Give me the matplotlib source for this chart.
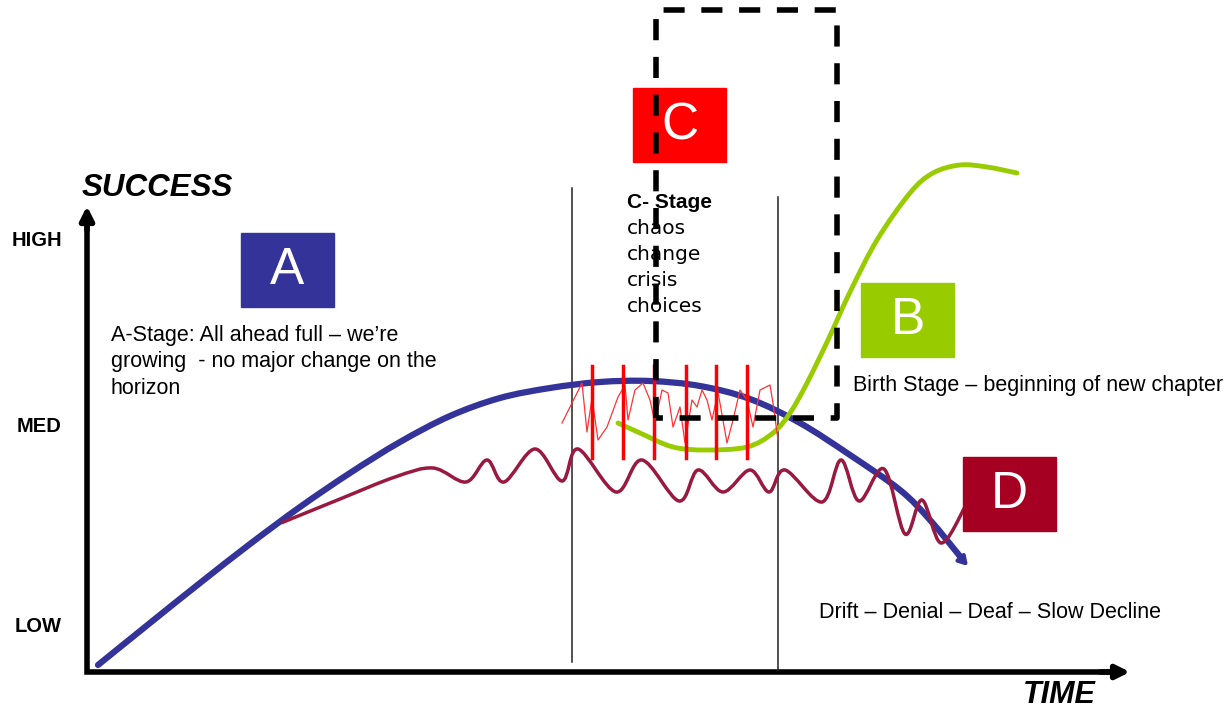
import numpy as np
import matplotlib
matplotlib.use("Agg")
import matplotlib.pyplot as plt
from matplotlib.path import Path
from matplotlib.patches import PathPatch, Rectangle

# diagram, pixel coords (y downwards)
blue_x = [98, 150, 200, 250, 300, 350, 400, 450, 500, 550, 600, 650, 700, 750, 800, 850, 900, 930, 963]
blue_y = [665, 623, 583, 544, 507, 473, 442, 416, 398, 388, 382, 381, 386, 399, 423, 455, 490, 520, 560]

green_x = [618, 640, 673, 707, 747, 773, 790, 807, 828, 850, 877, 910, 933, 960, 987, 1017]
green_y = [423, 433, 447, 450, 447, 433, 413, 383, 340, 292, 240, 193, 173, 165, 167, 173]

wave_x = [281, 340, 395, 433, 466, 487, 504, 535, 562, 578, 616, 642, 679, 698, 723, 750, 769,
          785, 822, 841, 859, 884, 905, 922, 941, 965]
wave_y = [523, 499, 477, 468, 482, 460, 482, 449, 481, 449, 492, 460, 501, 470, 492, 470, 492,
          470, 502, 460, 501, 469, 534, 500, 543, 507]

scrib_x = [562, 582, 587, 592, 598, 607, 618, 625, 628, 635, 643, 650, 655, 662, 668, 673,
           680, 685, 692, 697, 702, 707, 712, 718, 727, 733, 740, 747, 753, 760, 770, 773, 778]
scrib_y = [423, 383, 432, 398, 440, 427, 397, 385, 420, 390, 383, 400, 423, 390, 393, 427,
           407, 443, 400, 407, 390, 400, 420, 392, 443, 420, 390, 400, 427, 390, 385, 403, 440]

bars_x = [592, 623, 654, 686, 716, 747]

levels = ["HIGH", "MED", "LOW"]
levels_y = [241, 427, 626]

stage_boxes = {"A": (241, 233, "#333399"), "B": (861, 283, "#99CC00"),
               "C": (633, 88, "#FF0000"), "D": (963, 457, "#A50021")}


def smooth_path(xs, ys):
    # catmull-rom through the read points, drawn as cubic beziers
    p = np.column_stack([xs, ys]).astype(float)
    verts = [p[0]]
    codes = [Path.MOVETO]
    n = len(p)
    for i in range(n - 1):
        p0 = p[max(i - 1, 0)]
        p1 = p[i]
        p2 = p[i + 1]
        p3 = p[min(i + 2, n - 1)]
        verts += [p1 + (p2 - p0) / 6, p2 - (p3 - p1) / 6, p2]
        codes += [Path.CURVE4] * 3
    return Path(verts, codes)


fig = plt.figure(figsize=(12.31, 7.11), dpi=100)
ax = fig.add_axes([0, 0, 1, 1])
ax.set_xlim(0, 1231)
ax.set_ylim(711, 0)
ax.axis("off")

sans = "Liberation Sans"

# axes arrows
ax.plot([87, 87, 1110], [215, 672, 672], color="black", lw=4, solid_joinstyle="miter")
ax.annotate("", xy=(87, 206), xytext=(87, 230),
            arrowprops=dict(arrowstyle="-|>,head_length=0.8,head_width=0.4", lw=4, color="black",
                            shrinkA=0, shrinkB=0))
ax.annotate("", xy=(1130, 672), xytext=(1100, 672),
            arrowprops=dict(arrowstyle="-|>,head_length=0.8,head_width=0.4", lw=4, color="black",
                            shrinkA=0, shrinkB=0))
ax.text(82, 188, "SUCCESS", fontsize=22.5, fontweight="bold", fontstyle="italic",
        family=sans, va="center", ha="left")
ax.text(1096, 695, "TIME", fontsize=22, fontweight="bold", fontstyle="italic",
        family=sans, va="center", ha="right")
for lab, yy in zip(levels, levels_y):
    ax.text(62, yy, lab, fontsize=14.5, fontweight="bold", family=sans, ha="right", va="center")

# stage separators
ax.plot([572, 572], [188, 662], color="#222222", lw=1.1)
ax.plot([778, 778], [197, 670], color="#222222", lw=1.1)

# curves
ax.add_patch(PathPatch(smooth_path(blue_x, blue_y), fill=False, lw=4.5, ec="#333399",
                       capstyle="round", zorder=3))
ax.annotate("", xy=(968, 566), xytext=(958, 555),
            arrowprops=dict(arrowstyle="-|>,head_length=0.5,head_width=0.3", lw=3, color="#333399",
                            shrinkA=0, shrinkB=0), zorder=3)
ax.add_patch(PathPatch(smooth_path(wave_x, wave_y), fill=False, lw=2.5, ec="#99193F", zorder=4))
ax.add_patch(PathPatch(smooth_path(green_x, green_y), fill=False, lw=3.5, ec="#99CC00",
                       capstyle="round", zorder=4))
ax.plot(scrib_x, scrib_y, color="#FF3333", lw=0.9, zorder=5)
for bx in bars_x:
    ax.plot([bx, bx], [366, 458], color="#FF0000", lw=2.5, zorder=5)

# stage boxes
for letter, (x0, y0, col) in stage_boxes.items():
    ax.add_patch(Rectangle((x0, y0), 93, 74, color=col, zorder=6))
    ax.text(x0 + 46.5, y0 + 38, letter, color="white", fontsize=37, family=sans,
            ha="center", va="center", zorder=7)

# texts
ax.text(111, 336, "A-Stage: All ahead full \u2013 we\u2019re", fontsize=15.5, family=sans, va="center")
ax.text(111, 362, "growing  - no major change on the", fontsize=15.5, family=sans, va="center")
ax.text(111, 389, "horizon", fontsize=15.5, family=sans, va="center")

c_lines = ["chaos", "change", "crisis", "choices"]
ax.text(627, 202, "C- Stage", fontsize=15, fontweight="bold", family=sans,
        va="center", zorder=6)
for i, ln in enumerate(c_lines):
    ax.text(627, 228 + 26 * i, ln, fontsize=14.5, family="DejaVu Sans", va="center", zorder=6)

ax.text(853, 385, "Birth Stage \u2013 beginning of new chapter", fontsize=15.5, family=sans,
        va="center", zorder=6)
ax.text(819, 613, "Drift \u2013 Denial \u2013 Deaf \u2013 Slow Decline", fontsize=15.5, family=sans,
        va="center", zorder=6)

# dashed frame around the chaos zone
ax.plot([656, 656, 837, 837, 656], [418, 10, 10, 418, 418], color="black", lw=4,
        ls=(0, (3.8, 3.0)), zorder=8)

fig.savefig("out.png", dpi=100)
